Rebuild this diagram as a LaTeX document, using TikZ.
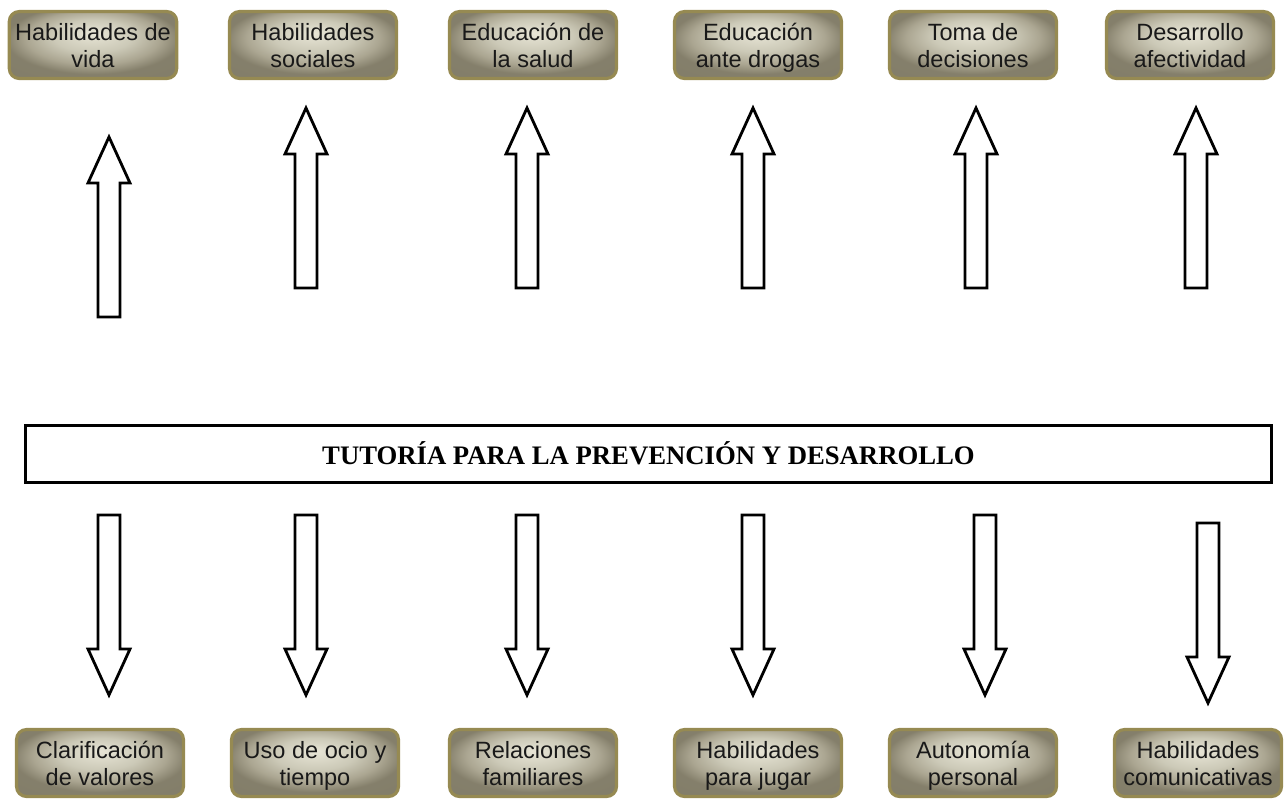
\documentclass[tikz,border=0pt]{standalone}
\usepackage{fontspec}
\setmainfont{Liberation Serif}
\newfontfamily\cajafont{Liberation Sans}

\definecolor{borde}{RGB}{150,138,82}
\pgfdeclareradialshading{brillo}{\pgfpoint{0bp}{9bp}}{%
  rgb(0bp)=(0.91,0.90,0.84);
  rgb(12bp)=(0.80,0.79,0.72);
  rgb(20bp)=(0.67,0.65,0.57);
  rgb(26bp)=(0.52,0.50,0.42);
  rgb(50bp)=(0.50,0.48,0.40)}

\tikzset{
  tema/.style={rectangle, rounded corners=0.2cm, draw=borde, line width=1.8pt,
    shading=brillo, minimum width=3.34cm, minimum height=1.34cm,
    align=center, text=black!90, text height=28pt, text depth=2pt,
    font=\cajafont\fontsize{13.4}{15.4}\selectfont},
  flecha/.pic={
    \draw[line width=1.6pt, fill=white, line join=miter]
      (-11,0) -- (-11,-134) -- (-21,-134) -- (0,-180) -- (21,-134) -- (11,-134) -- (11,0) -- cycle;
  }
}

\begin{document}
\begin{tikzpicture}[x=0.02cm, y=-0.02cm]
    \useasboundingbox (0,0) rectangle (1284,799);

    % temas de arriba
    \node[tema] (ar1) at (93,45) {Habilidades de\\vida};
    \node[tema] (ar2) at (313,45) {Habilidades\\sociales};
    \node[tema] (ar3) at (533,45) {Educación de\\la salud};
    \node[tema] (ar4) at (758,45) {Educación\\ante drogas};
    \node[tema] (ar5) at (973,45) {Toma de\\decisiones};
    \node[tema] (ar6) at (1190,45) {Desarrollo\\afectividad};

    % flechas hacia arriba
    \pic (fa1) at (109,317) {flecha};
    \foreach \x [count=\i from 2] in {306,527,753,976,1196}
      \pic (fa\i) at (\x,288) {flecha};

    % caja central
    \node[draw, line width=1.7pt, minimum width=24.94cm, minimum height=1.14cm,
      font=\fontsize{15.2}{18}\selectfont\bfseries] (tutoria) at (648.5,453.5)
      {TUTORÍA PARA LA PREVENCIÓN Y DESARROLLO};

    % flechas hacia abajo
    \foreach \x [count=\i] in {109,306,527,753,985}
      \pic[yscale=-1] (fb\i) at (\x,515) {flecha};
    \pic[yscale=-1] (fb6) at (1208,523) {flecha};

    % temas de abajo
    \node[tema] (ab1) at (100,763) {Clarificación\\de valores};
    \node[tema] (ab2) at (315,763) {Uso de ocio y\\tiempo};
    \node[tema] (ab3) at (533,763) {Relaciones\\familiares};
    \node[tema] (ab4) at (758,763) {Habilidades\\para jugar};
    \node[tema] (ab5) at (973,763) {Autonomía\\personal};
    \node[tema] (ab6) at (1198,763) {Habilidades\\comunicativas};
  \end{tikzpicture}
\end{document}
